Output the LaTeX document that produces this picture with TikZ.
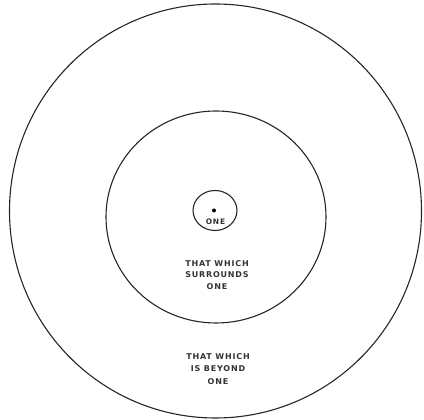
\documentclass[tikz,border=0pt]{standalone}
\usepackage{fontspec}
\setsansfont{DejaVu Sans}[LetterSpace=10]
\usetikzlibrary{shapes.geometric}
\begin{document}
\begin{tikzpicture}[x=1pt,y=1pt,
  ring/.style={draw=black!85, line width=1.1pt, ellipse, inner sep=0pt},
  label/.style={align=center, font=\sffamily\bfseries\fontsize{8}{11.5}\selectfont, text=black!80}]
\useasboundingbox (0,0) rectangle (424,420);
\node[ring, minimum width=412pt, minimum height=414pt] (outer) at (215.5,209) {};
\node[ring, minimum width=220pt, minimum height=212pt] (middle) at (216,203) {};
\node[ring, minimum width=44pt, minimum height=40pt] (inner) at (215,209.5) {};
\node[circle, fill=black, minimum size=4pt, inner sep=0pt] (dot) at (214,209.5) {};
\node[label, font=\sffamily\bfseries\fontsize{7.5}{10}\selectfont] (one) at (215.5,198) {ONE};
\node[label] (surr) at (217,145) {THAT WHICH\\SURROUNDS\\ONE};
\node[label, font=\sffamily\bfseries\fontsize{8}{12.5}\selectfont] (beyond) at (218,51) {THAT WHICH\\IS BEYOND\\ONE};
\end{tikzpicture}
\end{document}
